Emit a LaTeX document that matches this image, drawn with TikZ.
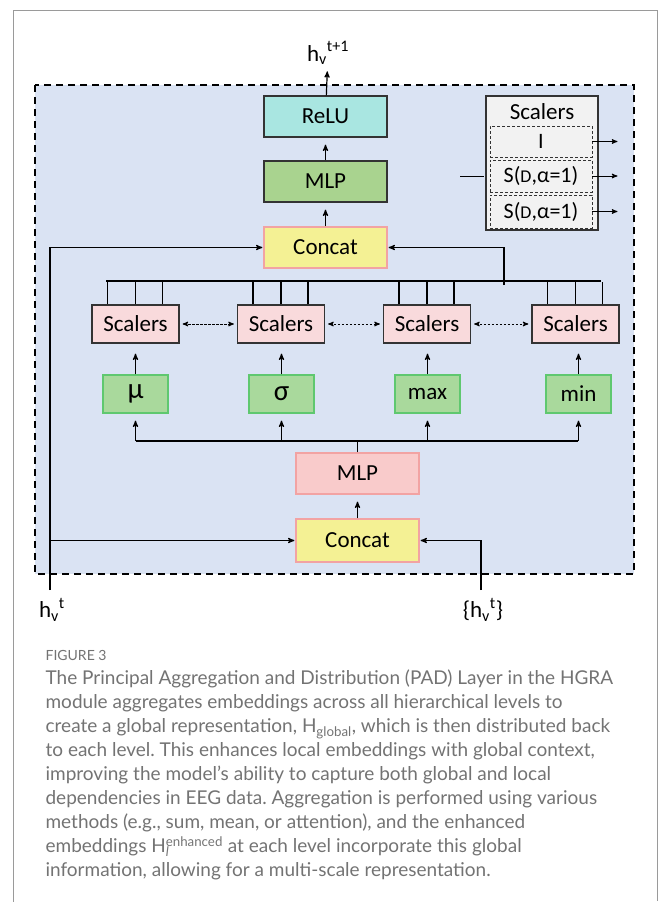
\documentclass[tikz,border=0pt]{standalone}
\usepackage{fontspec}
\setmainfont{Carlito}
\newfontfamily\capfont{Lato}
\usetikzlibrary{arrows}
\usetikzlibrary{calc}
\frenchspacing

\definecolor{padblue}{HTML}{DAE3F3}
\definecolor{reluc}{HTML}{A9E6E1}
\definecolor{mlpgreen}{HTML}{A9D38F}
\definecolor{catyellow}{HTML}{F4F194}
\definecolor{catborder}{HTML}{F2A3A3}
\definecolor{scalpink}{HTML}{F9DADC}
\definecolor{statgreen}{HTML}{A9D99C}
\definecolor{statborder}{HTML}{5FC86F}
\definecolor{mlppink}{HTML}{F9CBCB}
\definecolor{panelgray}{HTML}{F2F2F2}
\definecolor{capgray}{HTML}{737373}
\definecolor{framegray}{HTML}{9A9A9A}

\begin{document}
\begin{tikzpicture}[x=1pt, y=-1pt, ->, >=stealth', shorten >=1pt, line width=1.2pt]
        \tikzstyle{block}=[draw=black!80, line width=1.2pt, minimum width=123pt, minimum height=41pt, inner sep=0pt, font=\fontsize{23}{23}\selectfont]
        \tikzstyle{scal}=[block, fill=scalpink, minimum width=87pt, minimum height=38pt]
        \tikzstyle{stat}=[block, draw=statborder, fill=statgreen, minimum width=65pt, minimum height=38pt]
        \tikzstyle{sub}=[draw=black!80, densely dashed, line width=0.9pt, fill=panelgray, minimum width=102pt, inner sep=0pt, font=\fontsize{22}{22}\selectfont]
        \tikzstyle{io}=[inner sep=0pt, font=\fontsize{23}{23}\selectfont]
        \tikzstyle{gap}=[shorten >=7pt]

        \useasboundingbox (0,0) rectangle (658,902);
        \draw[-, framegray, line width=1pt] (13,902) -- (13,10) -- (657,10) -- (657,902);
        \draw[-, fill=padblue, dashed, line width=1.6pt, dash pattern=on 7pt off 5pt] (35,85) rectangle (634,574);

        \node[block, fill=reluc] (relu) at (325.5,116.5) {ReLU};
        \node[block, fill=mlpgreen] (mlp) at (325.5,181.5) {MLP};
        \node[block, draw=catborder, fill=catyellow] (concat) at (325.5,247.5) {Concat};
        \node[io, anchor=base] (hout) at (328,61) {h\textsubscript{v}\textsuperscript{t+1}};

        \node[draw=black!80, line width=1.2pt, fill=panelgray, minimum width=112pt, minimum height=134pt] (panel) at (542,163) {};
        \node[io] (ptitle) at (542,112) {Scalers};
        \node[sub, minimum height=31pt] (sb1) at (541,141.5) {I};
        \node[sub, minimum height=32pt] (sb2) at (541,176) {S({\fontsize{18}{18}\selectfont D},α=1)};
        \node[sub, minimum height=33pt] (sb3) at (541,211.5) {S({\fontsize{18}{18}\selectfont D},α=1)};
        \coordinate (pin) at (460,176);

        \node[scal] (s1) at (135.5,324) {Scalers};
        \node[scal] (s2) at (281,324) {Scalers};
        \node[scal] (s3) at (427,324) {Scalers};
        \node[scal] (s4) at (575.5,324) {Scalers};

        \node[stat, font=\fontsize{29}{29}\selectfont] (mu) at (135.5,394) {μ};
        \node[stat, font=\fontsize{29}{29}\selectfont] (sigma) at (281.5,394) {σ};
        \node[stat] (max) at (427.5,394) {max};
        \node[stat] (min) at (578.5,394) {min};

        \node[block, draw=catborder, fill=mlppink] (mlp2) at (357.5,473.5) {MLP};
        \node[block, draw=catborder, fill=catyellow, minimum height=43pt] (concat2) at (357.5,540.5) {Concat};

        \node[io, anchor=north] (hvt) at (52,598) {h\textsubscript{v}\textsuperscript{t}};
        \node[io, anchor=north] (hset) at (483,598) {\{h\textsubscript{v}\textsuperscript{t}\}};
        \coordinate (hvtin) at (50,590);
        \coordinate (hsetin) at (481,590);

        \coordinate (busl) at (106,281);
        \coordinate (busr) at (602,281);
        \coordinate (busj) at (504,285);
        \coordinate (distl) at (135.5,441);
        \coordinate (distr) at (578.5,441);

        % top of the layer
        \draw[gap] (concat) -- (mlp);
        \draw[gap] (mlp) -- (relu);
        \draw[shorten >=6pt] (relu) -- (hout);
        \draw (hvtin) |- (concat.west);
        \draw (hvtin |- concat2.west) -- (concat2.west);
        \draw (busj) |- (concat.east);
        \draw[-] (busl) -- (busr);
        \foreach \s in {s1,s2,s3,s4}
            \foreach \dx in {-28,0,27}
                \draw[-] ($(\s.north)+(\dx,0)$) -- ($(\s.north |- busl)+(\dx,0)$);

        % scalers panel
        \draw[-, line width=1pt] (pin) -- (pin -| panel.west);
        \foreach \b in {sb1,sb2,sb3}
            \draw[line width=1pt] (\b.east) -- ++(26,0);

        % aggregators
        \path[<->, line width=1pt, dash pattern=on 2.5pt off 1.5pt, shorten <=3pt, shorten >=3pt]
            (s1) edge (s2)
            (s2) edge (s3)
            (s3) edge (s4);
        \foreach \m/\s in {mu/s1,sigma/s2,max/s3,min/s4} {
            \draw[shorten >=10pt] (\m) -- (\m |- \s.south);
            \draw[gap] (\m |- distl) -- (\m);
        }
        \draw[-] (distl) -- (distr);
        \draw[-] (mlp2) -- (mlp2.north |- distl);
        \draw[gap] (concat2) -- (mlp2);
        \draw (hsetin) |- (concat2.east);

        \node[anchor=base west, inner sep=0pt, text=capgray, font=\capfont\fontsize{14}{14}\selectfont] (fig) at (45,660) {FIGURE 3};
        \node[anchor=north west, inner sep=0pt, align=left, text=capgray, font=\capfont\fontsize{19}{24}\selectfont] (cap) at (45,669.5) {The Principal Aggregation and Distribution (PAD) Layer in the HGRA\\
module aggregates embeddings across all hierarchical levels to\\
create a global representation, H\textsubscript{global}, which is then distributed back\\
to each level. This enhances local embeddings with global context,\\
improving the model’s ability to capture both global and local\\
dependencies in EEG data. Aggregation is performed using various\\
methods (e.g., sum, mean, or attention), and the enhanced\\
embeddings H\rlap{\textsubscript{\textit{l}}}\textsuperscript{enhanced} at each level incorporate this global\\
information, allowing for a multi-scale representation.};
\end{tikzpicture}
\end{document}
